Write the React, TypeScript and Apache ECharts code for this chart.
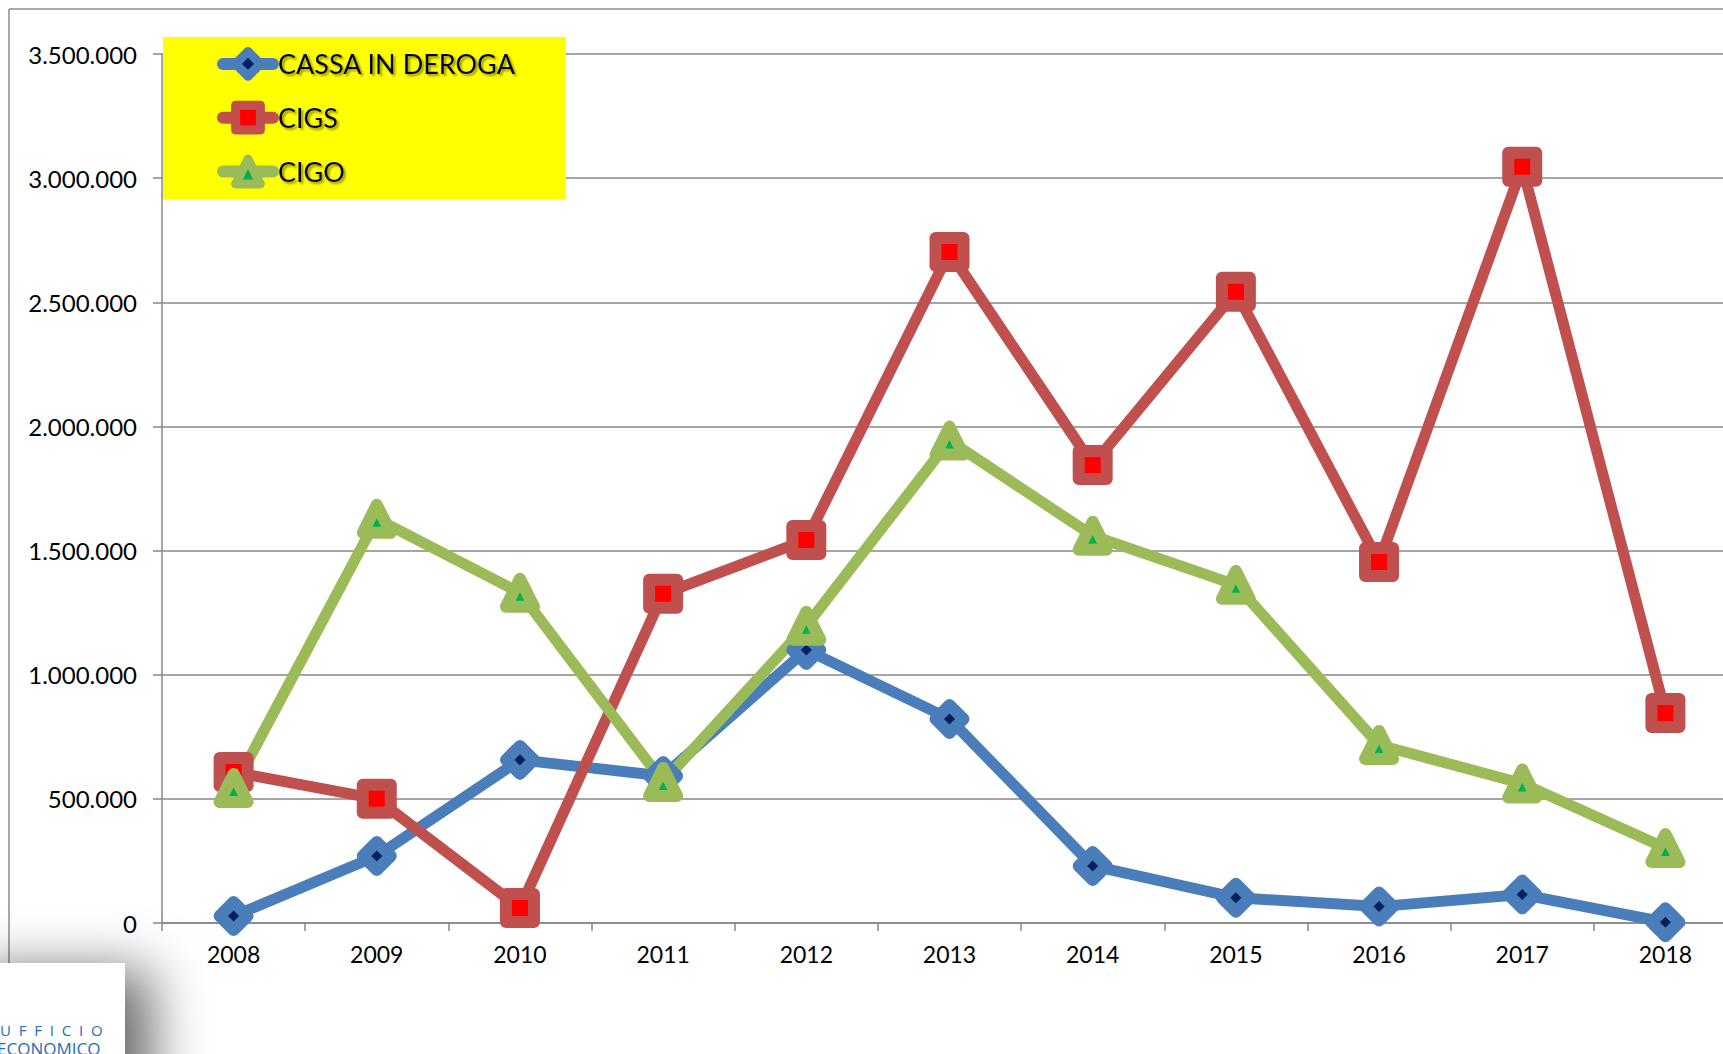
import React, { useEffect, useRef } from "react";
import * as echarts from "echarts";

const years = ["2008", "2009", "2010", "2011", "2012", "2013", "2014", "2015", "2016", "2017", "2018"];
const cassaInDeroga = [28000, 270000, 657000, 592000, 1100000, 822000, 230000, 102000, 66000, 115000, 3000];
const cigs = [608000, 500000, 60000, 1326000, 1543000, 2703000, 1845000, 2542000, 1454000, 3046000, 846000];
const cigo = [544000, 1628000, 1330000, 568000, 1197000, 1943000, 1560000, 1362000, 717000, 562000, 302000];
const seriesNames = ["CASSA IN DEROGA", "CIGS", "CIGO"];
const logoLines = ["U  F  F  I  C  I  O", "ECONOMICO"];

const fmt = (v: number) => String(Math.round(v)).replace(/\B(?=(\d{3})+(?!\d))/g, ".");

export default function App() {
  const ref = useRef<HTMLDivElement>(null);
  useEffect(() => {
    if (!ref.current) return;
    const chart = echarts.init(ref.current, null, { renderer: "svg" });
    const font = "Lato";
    const mkSeries = (name: string, data: number[], symbol: string, lineColor: string, inner: string) => ({
      name,
      type: "line",
      data,
      symbol,
      symbolSize: 28,
      showSymbol: true,
      showAllSymbol: true,
      lineStyle: { color: lineColor, width: 11, cap: "round", join: "round" },
      itemStyle: { color: inner, borderColor: lineColor, borderWidth: 12, borderJoin: "round" },
      emphasis: { disabled: true },
    });
    chart.setOption({
      animation: false,
      backgroundColor: "#ffffff",
      grid: { left: 162, top: 54, bottom: 131, right: 0, containLabel: false },
      xAxis: {
        type: "category",
        data: years,
        boundaryGap: true,
        axisLine: { lineStyle: { color: "#878787", width: 1.5 } },
        axisTick: { show: true, length: 8, lineStyle: { color: "#878787", width: 1.5 } },
        axisLabel: { color: "#000", fontFamily: font, fontSize: 23, margin: 19 },
        splitLine: { show: false },
      },
      yAxis: {
        type: "value",
        min: 0,
        max: 3500000,
        interval: 500000,
        axisLine: { show: true, lineStyle: { color: "#878787", width: 1.5 } },
        axisTick: { show: true, length: 9, lineStyle: { color: "#878787", width: 1.5 } },
        axisLabel: { color: "#000", fontFamily: font, fontSize: 24, margin: 25, formatter: (v: number) => fmt(v) },
        splitLine: { show: true, lineStyle: { color: "#878787", width: 1.5 } },
      },
      legend: {
        orient: "vertical",
        left: 163,
        top: 37,
        backgroundColor: "#ffff00",
        padding: [10, 50, 11, 54],
        itemGap: 20,
        itemWidth: 50,
        itemHeight: 31,
        selectedMode: false,
        lineStyle: { width: 12, cap: "round" },
        itemStyle: { borderWidth: 9 },
        textStyle: {
          color: "#000",
          fontFamily: font,
          fontSize: 27,
          lineHeight: 31,
          textShadowColor: "rgba(110,110,0,0.75)",
          textShadowBlur: 2,
          textShadowOffsetX: 2,
          textShadowOffsetY: 2,
        },
        data: seriesNames,
      },
      graphic: [
        { type: "line", shape: { x1: 9, y1: 9, x2: 1737, y2: 9 }, style: { stroke: "#8c8c8c", lineWidth: 1.5 }, silent: true },
        { type: "line", shape: { x1: 9, y1: 9, x2: 9, y2: 965 }, style: { stroke: "#8c8c8c", lineWidth: 1.5 }, silent: true },
        {
          type: "rect",
          shape: { x: -60, y: 963, width: 185, height: 160 },
          style: { fill: "#ffffff", shadowBlur: 55, shadowOffsetX: 26, shadowOffsetY: 8, shadowColor: "rgba(0,0,0,0.6)" },
          silent: true,
          z: 10,
        },
        {
          type: "text",
          x: 0,
          y: 1022,
          style: {
            text: logoLines[0],
            fill: "#2a6cb6",
            font: "15px 'Open Sans'",
            lineHeight: 15,
            verticalAlign: "top",
          },
          silent: true,
          z: 11,
        },
        {
          type: "text",
          x: -3,
          y: 1040,
          style: {
            text: logoLines[1],
            fill: "#2a6cb6",
            font: "17px 'Open Sans'",
            lineHeight: 17,
            verticalAlign: "top",
          },
          silent: true,
          z: 11,
        },
      ],
      series: [
        mkSeries(seriesNames[0], cassaInDeroga, "diamond", "#4a7ebb", "#002060"),
        mkSeries(seriesNames[1], cigs, "rect", "#c0504d", "#ff0000"),
        mkSeries(seriesNames[2], cigo, "triangle", "#9bbb59", "#00b050"),
      ],
    });
    return () => chart.dispose();
  }, []);
  return (
    <div style={{ position: "fixed", left: 0, top: 0, width: 1723, height: 1054, overflow: "hidden", background: "#fff" }}>
      <div ref={ref} style={{ position: "absolute", left: 0, top: 0, width: 1737, height: 1054 }} />
    </div>
  );
}
